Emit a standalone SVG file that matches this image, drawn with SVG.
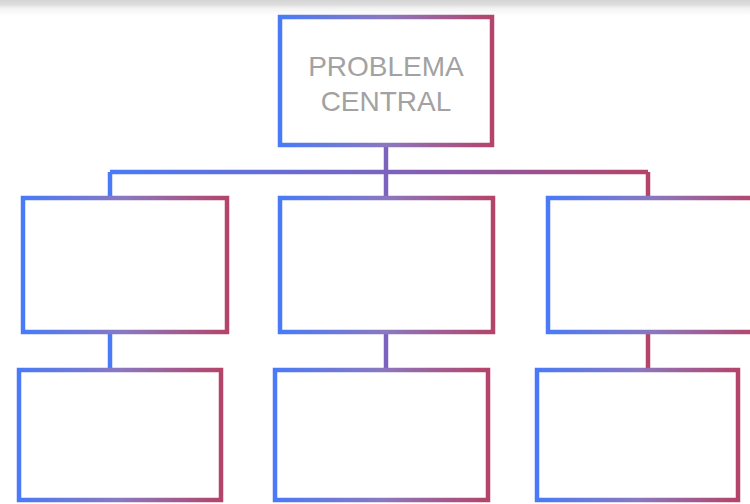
<svg xmlns="http://www.w3.org/2000/svg" width="750" height="504" viewBox="0 0 750 504">
<defs>
<linearGradient id="gBox" x1="0" y1="0" x2="1" y2="0">
<stop offset="0" stop-color="#4a7af7"/>
<stop offset="0.5" stop-color="#8a78c0"/>
<stop offset="1" stop-color="#b4446a"/>
</linearGradient>
<linearGradient id="gLine" gradientUnits="userSpaceOnUse" x1="110" y1="0" x2="648" y2="0">
<stop offset="0" stop-color="#4a7af7"/>
<stop offset="0.5" stop-color="#7a64c0"/>
<stop offset="1" stop-color="#b4446a"/>
</linearGradient>
<linearGradient id="gTop" x1="0" y1="0" x2="0" y2="1">
<stop offset="0" stop-color="#d4d4d4"/>
<stop offset="0.3" stop-color="#dedede"/>
<stop offset="0.5" stop-color="#f2f2f2"/>
<stop offset="1" stop-color="#ffffff"/>
</linearGradient>
</defs>
<style>
.box{fill:#ffffff;stroke:url(#gBox);stroke-width:4.5}
.con{fill:none;stroke:url(#gLine);stroke-width:4.5}
.lbl{font-family:"Liberation Sans",Arial,sans-serif;font-size:28px;fill:#a2a2a2;text-anchor:middle}
</style>
<rect x="0" y="0" width="750" height="504" fill="#ffffff"/>
<rect x="0" y="0" width="750" height="16" fill="url(#gTop)"/>
<g id="connectors">
<path class="con" d="M110,172 H648"/>
<path class="con" d="M386,145 V198"/>
<path class="con" d="M110,172 V198"/>
<path class="con" d="M648,172 V198"/>
<path class="con" d="M110,332 V370"/>
<path class="con" d="M386,332 V370"/>
<path class="con" d="M648,332 V370"/>
</g>
<g id="root">
<rect class="box" x="280" y="17" width="212" height="128"/>
<text class="lbl" x="386" y="76">PROBLEMA</text>
<text class="lbl" x="386" y="111">CENTRAL</text>
</g>
<g id="mid-left"><rect class="box" x="23" y="198" width="204" height="134"/></g>
<g id="mid-center"><rect class="box" x="280" y="198" width="213" height="134"/></g>
<g id="mid-right"><rect class="box" x="548" y="198" width="210" height="134"/></g>
<g id="bottom-left"><rect class="box" x="19" y="370" width="202" height="130"/></g>
<g id="bottom-center"><rect class="box" x="275" y="370" width="213" height="130"/></g>
<g id="bottom-right"><rect class="box" x="537" y="370" width="201" height="130"/></g>
</svg>
